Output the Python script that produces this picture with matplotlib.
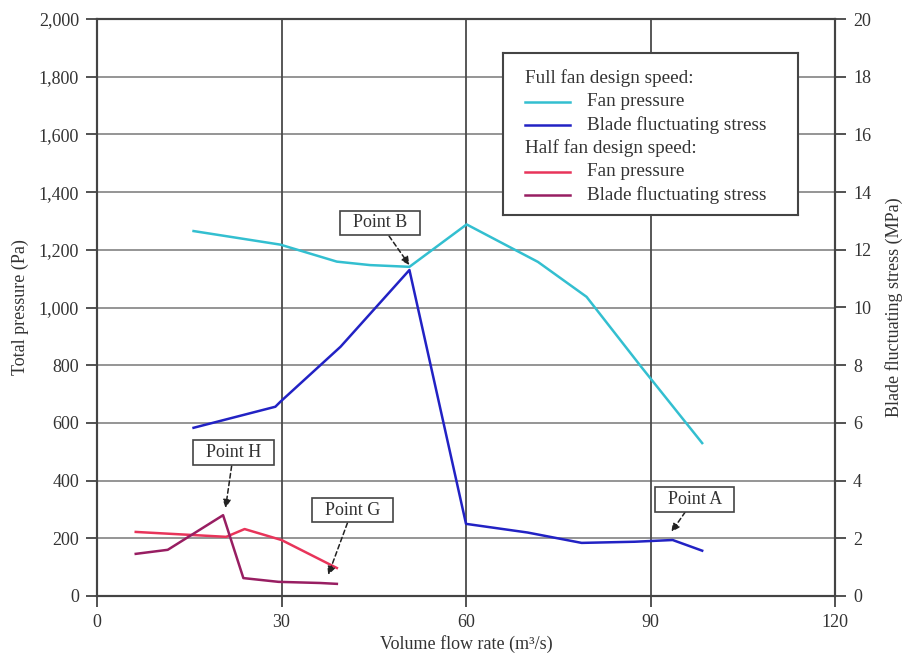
import matplotlib
matplotlib.use("Agg")
import matplotlib.pyplot as plt
from matplotlib.ticker import FuncFormatter

plt.rcParams['font.family'] = ['Liberation Serif', 'DejaVu Serif']

# full fan design speed
full_flow_p = [15.7, 29.8, 39.0, 44.4, 50.8, 60.1, 71.7, 79.6, 88.5, 98.4]
full_pressure = [1265, 1218, 1159, 1147, 1141, 1288, 1158, 1037, 794, 530]
full_flow_s = [15.7, 29.0, 29.8, 39.6, 50.8, 60.0, 70.0, 78.8, 87.4, 93.6, 98.4]
full_stress = [5.83, 6.56, 6.73, 8.64, 11.3, 2.5, 2.2, 1.84, 1.88, 1.94, 1.57]

# half fan design speed
half_flow_p = [6.3, 21.0, 24.0, 30.0, 39.0]
half_pressure = [222, 205, 232, 194, 97]
half_flow_s = [6.3, 11.5, 20.5, 23.8, 29.5, 36.3, 39.0]
half_stress = [1.46, 1.6, 2.8, 0.62, 0.49, 0.45, 0.42]

# annotations: label, tip (flow, Pa), box centre (flow, Pa)
notes = [
    ("Point B", (50.8, 1147), (46.0, 1293)),
    ("Point A", (93.4, 222), (97.1, 336)),
    ("Point H", (20.9, 305), (22.2, 496)),
    ("Point G", (37.6, 73), (41.5, 298)),
]

c_cyan = '#33BFD0'
c_blue = '#2222C4'
c_red = '#E8345A'
c_purple = '#981E62'
txt = '#333333'
fs = 13

fig = plt.figure(figsize=(9.04, 6.56), dpi=100)
ax = fig.add_axes([0.1073, 0.0915, 0.8164, 0.8795])
ax2 = ax.twinx()

ax.set_xlim(0, 120)
ax.set_ylim(0, 2000)
ax2.set_ylim(0, 20)
ax.set_xticks([0, 30, 60, 90, 120])
ax.set_yticks(range(0, 2001, 200))
ax2.set_yticks(range(0, 21, 2))
ax.yaxis.set_major_formatter(FuncFormatter(lambda v, p: f"{int(v):,}"))

for y in range(200, 2000, 200):
    ax.axhline(y, color='#8c8c8c', lw=1.3, zorder=0)
for x in [30, 60, 90]:
    ax.axvline(x, color='#4a4a4a', lw=1.3, zorder=0)

for a in (ax, ax2):
    for s in a.spines.values():
        s.set_color('#444444')
        s.set_linewidth(1.5)
    a.tick_params(colors='#444444', labelcolor=txt, labelsize=fs, width=1.3, length=8, pad=5)

ax.plot(full_flow_p, full_pressure, color=c_cyan, lw=1.8, zorder=3)
ax.plot(half_flow_p, half_pressure, color=c_red, lw=1.8, zorder=3)
ax2.plot(full_flow_s, full_stress, color=c_blue, lw=1.8, zorder=3)
ax2.plot(half_flow_s, half_stress, color=c_purple, lw=1.8, zorder=3)

ax.set_xlabel("Volume flow rate (m\u00b3/s)", fontsize=fs, color=txt, labelpad=3)
ax.set_ylabel("Total pressure (Pa)", fontsize=fs, color=txt, labelpad=7)
ax2.set_ylabel("Blade fluctuating stress (MPa)", fontsize=fs, color=txt, labelpad=10)

for label, tip, box in notes:
    ax2.annotate("  " + label + "  ", xy=tip, xytext=box, xycoords=ax.transData,
                 textcoords=ax.transData, ha='center', va='center', fontsize=fs,
                 color=txt, zorder=6,
                 bbox=dict(boxstyle='square,pad=0.22', fc='white', ec='#444444', lw=1.2),
                 arrowprops=dict(arrowstyle='-|>', linestyle=(0, (3, 2)), color='#222222',
                                 lw=1.1, mutation_scale=12, shrinkA=0, shrinkB=0))

# legend box with group headers
lax = fig.add_axes([0.5564, 0.672, 0.3263, 0.247], zorder=10)
lax.set_xlim(0, 295)
lax.set_ylim(162, 0)
lax.set_xticks([])
lax.set_yticks([])
for s in lax.spines.values():
    s.set_color('#444444')
    s.set_linewidth(1.5)
rows = [
    ("Full fan design speed:", None),
    ("Fan pressure", c_cyan),
    ("Blade fluctuating stress", c_blue),
    ("Half fan design speed:", None),
    ("Fan pressure", c_red),
    ("Blade fluctuating stress", c_purple),
]
for i, (label, col) in enumerate(rows):
    yy = 25 + i * 23.4
    if col is None:
        lax.text(22, yy, label, va='center', ha='left', fontsize=13.8, color=txt)
    else:
        lax.plot([22, 67], [yy, yy], color=col, lw=1.8)
        lax.text(84, yy, label, va='center', ha='left', fontsize=13.8, color=txt)

fig.savefig("out.png", dpi=100)
